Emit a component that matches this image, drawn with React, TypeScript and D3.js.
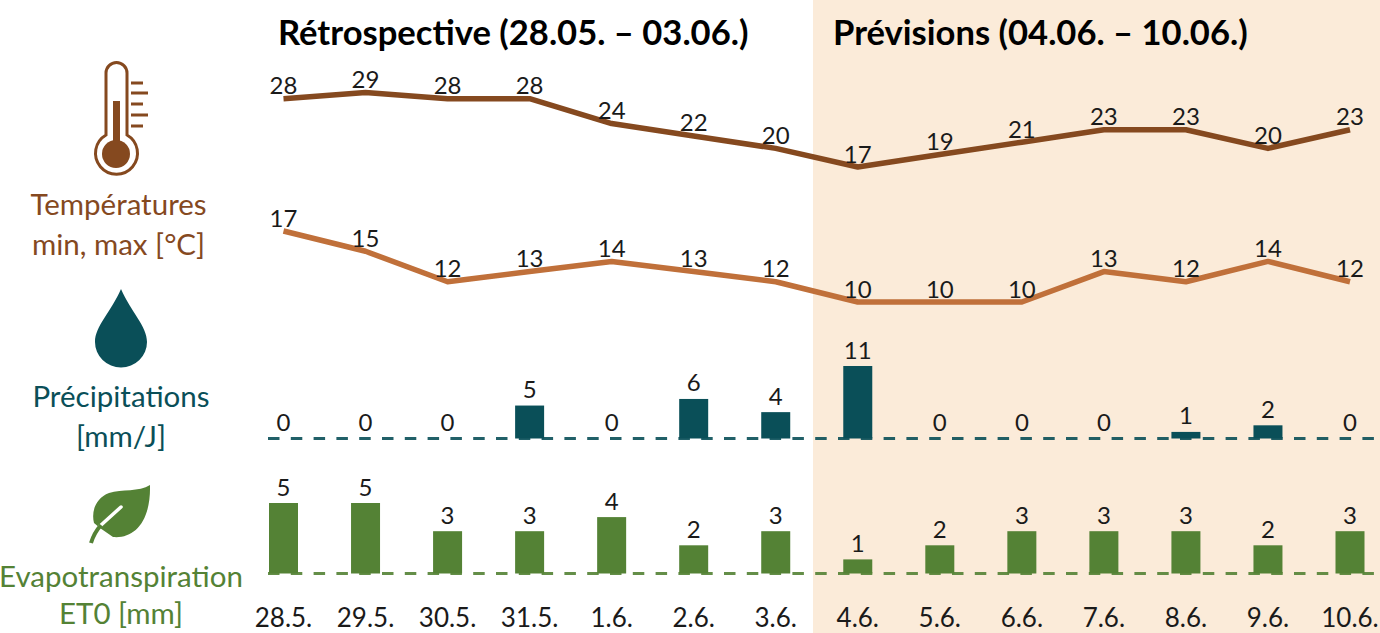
import React from "react";
import * as d3 from "d3";

const days = ["28.5.", "29.5.", "30.5.", "31.5.", "1.6.", "2.6.", "3.6.", "4.6.", "5.6.", "6.6.", "7.6.", "8.6.", "9.6.", "10.6."];
const tempMax = [28, 29, 28, 28, 24, 22, 20, 17, 19, 21, 23, 23, 20, 23];
const tempMin = [17, 15, 12, 13, 14, 13, 12, 10, 10, 10, 13, 12, 14, 12];
const precip = [0, 0, 0, 5, 0, 6, 4, 11, 0, 0, 0, 1, 2, 0];
const et0 = [5, 5, 3, 3, 4, 2, 3, 1, 2, 3, 3, 3, 2, 3];

const W = 1380;
const H = 633;
const BROWN_DARK = "#85491f";
const BROWN_LIGHT = "#c0703a";
const TEAL = "#0a4f58";
const GREEN = "#548235";
const INK = "#1a1a1a";
const FONT = "Lato, 'Open Sans', sans-serif";

const x = d3.scalePoint<number>().domain(d3.range(days.length)).range([283.5, 1350]);
const yMax = d3.scaleLinear().domain([17, 29]).range([167, 92.5]);
const yMin = d3.scaleLinear().domain([10, 17]).range([302, 231]);
const yPrecip = d3.scaleLinear().domain([0, 11]).range([438.5, 366]);
const yEt0 = d3.scaleLinear().domain([0, 5]).range([573.5, 503]);

const BAR_W = 29;

function TempLine({ values, y, color }: { values: number[]; y: d3.ScaleLinear<number, number>; color: string }) {
  const line = d3.line<number>().x((_, i) => x(i)!).y(d => y(d));
  return (
    <g>
      <path d={line(values)!} fill="none" stroke={color} strokeWidth={5.5} strokeLinejoin="round" />
      {values.map((v, i) => (
        <text key={i} x={x(i)} y={y(v) - 14} textAnchor="middle" dominantBaseline="central" fontSize={24} fill={INK}>
          {v}
        </text>
      ))}
    </g>
  );
}

function Bars({ values, y, color }: { values: number[]; y: d3.ScaleLinear<number, number>; color: string }) {
  const base = y(0);
  return (
    <g>
      <line x1={268} x2={W} y1={base} y2={base} stroke={color} strokeWidth={3} strokeDasharray="11.5 11.3" opacity={0.9} />
      {values.map((v, i) => (
        <g key={i}>
          {v > 0 && <rect x={x(i)! - BAR_W / 2} y={y(v)} width={BAR_W} height={base - y(v)} fill={color} />}
          <text x={x(i)} y={y(v) - 17} textAnchor="middle" dominantBaseline="central" fontSize={24} fill={INK}>
            {v}
          </text>
        </g>
      ))}
    </g>
  );
}

function Thermometer() {
  return (
    <g>
      <path
        d="M106 135 V73 A10.5 10.5 0 0 1 127 73 V135 A21 21 0 1 1 106 135 Z"
        fill="#fff"
        stroke={BROWN_DARK}
        strokeWidth={3}
      />
      <rect x={113} y={101} width={7} height={50} fill={BROWN_DARK} />
      <circle cx={116} cy={154} r={14} fill={BROWN_DARK} />
      {[[83, 143], [93, 148], [104, 143], [115, 148], [126, 143]].map(([yy, x2], i) => (
        <line key={i} x1={131} x2={x2} y1={yy} y2={yy} stroke={BROWN_DARK} strokeWidth={3} />
      ))}
    </g>
  );
}

function SideLabel({ lines, cx, ys, color }: { lines: string[]; cx: number; ys: number[]; color: string }) {
  return (
    <g fill={color} fontSize={29.5} textAnchor="middle">
      {lines.map((l, i) => (
        <text key={i} x={cx} y={ys[i]} dominantBaseline="central">
          {l}
        </text>
      ))}
    </g>
  );
}

export default function App() {
  return (
    <svg
      width={W}
      height={H}
      viewBox={`0 0 ${W} ${H}`}
      style={{ position: "absolute", left: 0, top: 0, fontFamily: FONT }}
    >
      <rect width={W} height={H} fill="#fff" />
      <rect x={813} y={0} width={W - 813} height={H} fill="#fbebd9" />

      <text x={278} y={31} fontSize={34.6} fontWeight={700} dominantBaseline="central" fill="#000">
        Rétrospective (28.05. – 03.06.)
      </text>
      <text x={833} y={31} fontSize={34.6} fontWeight={700} dominantBaseline="central" fill="#000">
        Prévisions (04.06. – 10.06.)
      </text>

      <TempLine values={tempMax} y={yMax} color={BROWN_DARK} />
      <TempLine values={tempMin} y={yMin} color={BROWN_LIGHT} />
      <Bars values={precip} y={yPrecip} color={TEAL} />
      <Bars values={et0} y={yEt0} color={GREEN} />

      {days.map((d, i) => (
        <text key={d} x={x(i)} y={617} textAnchor="middle" dominantBaseline="central" fontSize={26} fill={INK}>
          {d}
        </text>
      ))}

      <Thermometer />
      <SideLabel lines={["Températures", "min, max [°C]"]} cx={118.5} ys={[203.5, 243]} color={BROWN_DARK} />

      <path d="M121 289 C131 312 147 326 147 342 A26 25.5 0 0 1 95 342 C95 326 111 312 121 289 Z" fill={TEAL} />
      <SideLabel lines={["Précipitations", "[mm/J]"]} cx={121} ys={[395.5, 435]} color={TEAL} />

      <path d="M150 485 C139 492 122 489 109 493 C96 498 91 511 94 523 L100 528 L113 537 C134 539 151 522 150 485 Z" fill={GREEN} />
      <path d="M121 507 L100 526" stroke="#fff" strokeWidth={3.5} strokeLinecap="round" fill="none" />
      <path d="M101 525 Q94 533 91 543" stroke={GREEN} strokeWidth={4} fill="none" />
      <SideLabel lines={["Evapotranspiration", "ET0 [mm]"]} cx={121} ys={[575.5, 612.5]} color={GREEN} />
    </svg>
  );
}
